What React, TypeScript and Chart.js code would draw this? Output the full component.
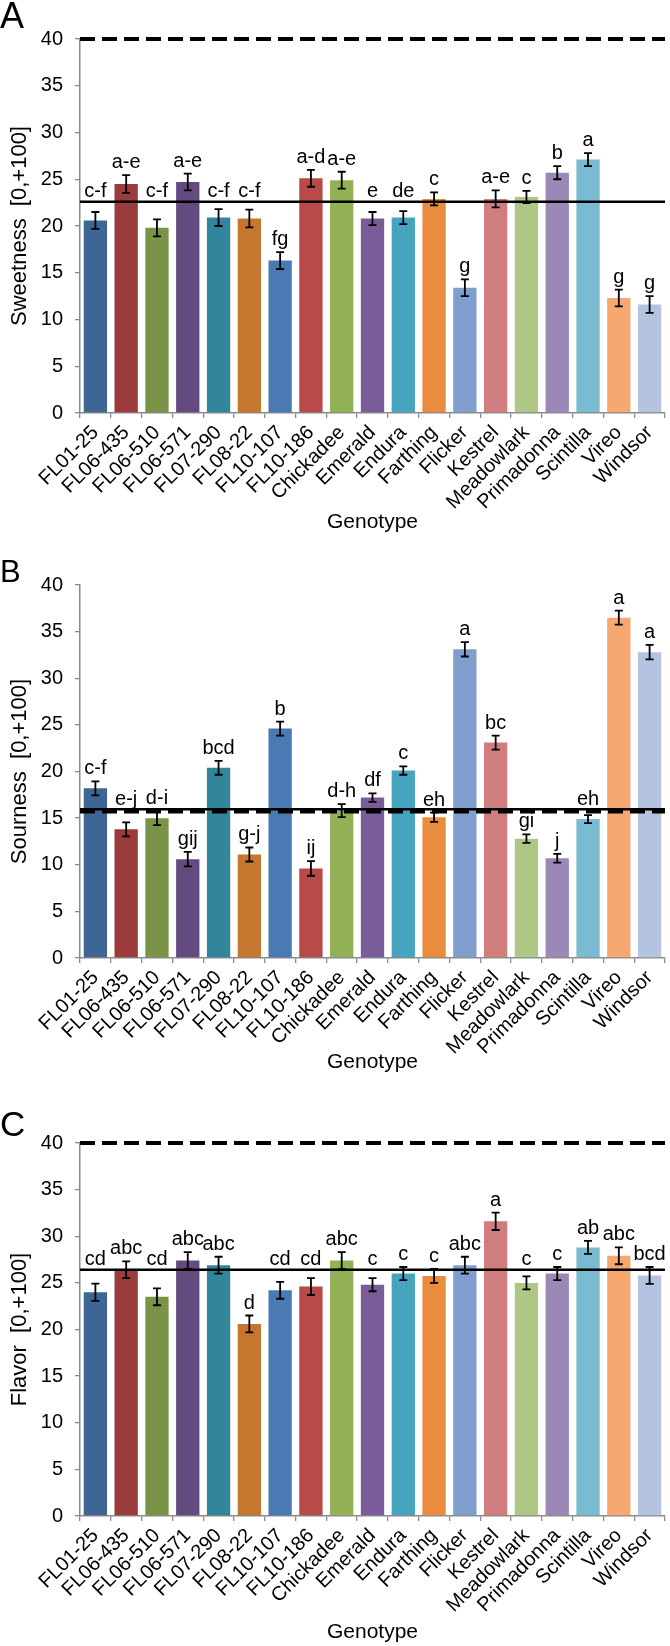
import React, { useEffect, useRef } from "react";
import { Chart, registerables } from "chart.js";

Chart.register(...registerables);

const genotypes = [
  "FL01-25", "FL06-435", "FL06-510", "FL06-571", "FL07-290", "FL08-22", "FL10-107", "FL10-186",
  "Chickadee", "Emerald", "Endura", "Farthing", "Flicker", "Kestrel", "Meadowlark", "Primadonna",
  "Scintilla", "Vireo", "Windsor",
];

const barColors = [
  "#3e6695", "#9b3b3c", "#799446", "#634b80", "#32869b", "#c5762f", "#4a7ab4", "#b84b49",
  "#92b054", "#7a5c9a", "#47a4be", "#e98c3d", "#7f9ecd", "#cf7d7d", "#afc784", "#9b88b7",
  "#79bcd2", "#f7a870", "#b4c4e0",
];

const sweetness = [20.6, 24.5, 19.8, 24.7, 20.9, 20.8, 16.3, 25.1, 24.9, 20.8, 20.9, 22.9, 13.4, 22.9, 23.1, 25.7, 27.1, 12.3, 11.6];
const sweetnessErr = [0.9, 0.95, 0.9, 0.9, 0.9, 0.95, 0.9, 0.9, 0.9, 0.7, 0.7, 0.7, 0.9, 0.9, 0.65, 0.7, 0.7, 0.9, 0.9];
const sweetnessLetters = ["c-f", "a-e", "c-f", "a-e", "c-f", "c-f", "fg", "a-d", "a-e", "e", "de", "c", "g", "a-e", "c", "b", "a", "g", "g"];

const sourness = [18.2, 13.8, 15.0, 10.6, 20.4, 11.1, 24.6, 9.6, 15.8, 17.2, 20.1, 15.1, 33.1, 23.1, 12.8, 10.7, 14.9, 36.5, 32.8];
const sournessErr = [0.75, 0.75, 0.75, 0.78, 0.75, 0.75, 0.75, 0.78, 0.7, 0.45, 0.45, 0.5, 0.77, 0.75, 0.45, 0.47, 0.43, 0.75, 0.77];
const sournessLetters = ["c-f", "e-j", "d-i", "gij", "bcd", "g-j", "b", "ij", "d-h", "df", "c", "eh", "a", "bc", "gi", "j", "eh", "a", "a"];

const flavor = [24.0, 26.4, 23.5, 27.4, 26.9, 20.6, 24.2, 24.6, 27.4, 24.8, 26.0, 25.75, 26.9, 31.6, 25.0, 26.0, 28.8, 27.9, 25.8];
const flavorErr = [0.93, 0.9, 0.9, 0.9, 0.9, 0.9, 0.9, 0.9, 0.9, 0.7, 0.7, 0.75, 0.9, 0.93, 0.7, 0.7, 0.7, 0.9, 0.9];
const flavorLetters = ["cd", "abc", "cd", "abc", "abc", "d", "cd", "cd", "abc", "c", "c", "c", "abc", "a", "c", "c", "ab", "abc", "bcd"];

// reference lines per panel: [panel mean (solid), target (dashed)]
const sweetnessRefs = [22.6, 40];
const sournessRefs = [15.95, 15.7];
const flavorRefs = [26.4, 40];

const FONT = "'Liberation Sans', Arial, Helvetica, sans-serif";
const AXIS = "#8a8a8a";
const CW = 670;

type PanelProps = {
  values: number[];
  errs: number[];
  letters: string[];
  refs: number[];
  yTitle: string;
  top: number;
  height: number;
  padTop: number;
  xAxisHeight: number;
  titlePad: number;
};

function Panel(p: PanelProps) {
  const ref = useRef<HTMLCanvasElement | null>(null);
  useEffect(() => {
    if (!ref.current) return;
    const overlay = {
      id: "overlay",
      afterDatasetsDraw(chart: any) {
        const { ctx, chartArea, scales } = chart;
        const x = scales.x;
        const y = scales.y;
        ctx.save();
        // dashed target line
        ctx.strokeStyle = "#000";
        ctx.lineWidth = 4;
        ctx.setLineDash([15, 7]);
        const yd = y.getPixelForValue(p.refs[1]);
        ctx.beginPath();
        ctx.moveTo(chartArea.left, yd);
        ctx.lineTo(chartArea.right, yd);
        ctx.stroke();
        // solid mean line
        ctx.setLineDash([]);
        ctx.lineWidth = 2.6;
        const ym = y.getPixelForValue(p.refs[0]);
        ctx.beginPath();
        ctx.moveTo(chartArea.left, ym);
        ctx.lineTo(chartArea.right, ym);
        ctx.stroke();
        // error bars
        ctx.lineWidth = 1.8;
        const cap = 4;
        p.values.forEach((v, i) => {
          const cx = x.getPixelForValue(i);
          const y1 = y.getPixelForValue(v + p.errs[i]);
          const y0 = y.getPixelForValue(v - p.errs[i]);
          ctx.beginPath();
          ctx.moveTo(cx, y0);
          ctx.lineTo(cx, y1);
          ctx.moveTo(cx - cap, y1);
          ctx.lineTo(cx + cap, y1);
          ctx.moveTo(cx - cap, y0);
          ctx.lineTo(cx + cap, y0);
          ctx.stroke();
        });
        // significance letters, lifted above a reference line when they would sit on it
        ctx.fillStyle = "#000";
        ctx.font = `20px ${FONT}`;
        ctx.textAlign = "center";
        ctx.textBaseline = "alphabetic";
        const linePix = [ym, yd].filter((v) => v > chartArea.top + 5);
        const topLine = Math.min(...linePix);
        p.values.forEach((v, i) => {
          const cx = x.getPixelForValue(i);
          const yt = y.getPixelForValue(v + p.errs[i]);
          let base = yt - 7;
          const hit = linePix.some((lp) => lp > base - 14 && lp < base + 3);
          if (hit) base = Math.min(base, topLine - 4.5);
          ctx.fillText(p.letters[i], cx, base);
        });
        ctx.restore();
      },
    };
    const chart = new Chart(ref.current, {
      type: "bar",
      data: {
        labels: genotypes,
        datasets: [
          {
            data: p.values,
            backgroundColor: barColors,
            borderWidth: 0,
            barPercentage: 0.757,
            categoryPercentage: 1,
          },
        ],
      },
      options: {
        responsive: false,
        animation: false,
        devicePixelRatio: 1,
        layout: { padding: { top: p.padTop, right: 5, bottom: 0, left: 0 } },
        plugins: { legend: { display: false }, tooltip: { enabled: false } },
        scales: {
          x: {
            grid: { drawOnChartArea: false, color: AXIS, tickLength: 5, lineWidth: 1.3, offset: true },
            border: { color: AXIS, width: 1.5 },
            ticks: {
              color: "#000",
              font: { family: FONT, size: 20 },
              minRotation: 45,
              maxRotation: 45,
              autoSkip: false,
              padding: 3,
            },
            title: {
              display: true,
              text: "Genotype",
              color: "#000",
              font: { family: FONT, size: 21 },
              padding: { top: 0, bottom: p.titlePad },
            },
            afterFit: (s: any) => {
              s.height = p.xAxisHeight;
            },
          },
          y: {
            min: 0,
            max: 40,
            ticks: { stepSize: 5, color: "#000", font: { family: FONT, size: 20 }, padding: 12 },
            grid: { drawOnChartArea: false, color: AXIS, tickLength: 5, lineWidth: 1.3 },
            border: { color: AXIS, width: 1.5 },
            title: {
              display: true,
              text: p.yTitle,
              color: "#000",
              font: { family: FONT, size: 22 },
              padding: { top: 7, bottom: 0 },
            },
            afterFit: (s: any) => {
              s.width = 80;
            },
          },
        },
      },
      plugins: [overlay],
    } as any);
    return () => chart.destroy();
  }, []);
  return (
    <canvas
      ref={ref}
      width={CW}
      height={p.height}
      style={{ position: "absolute", left: 0, top: p.top, width: CW, height: p.height }}
    />
  );
}

const letterStyle = (top: number, left: number, size: number): React.CSSProperties => ({
  position: "absolute",
  top,
  left,
  fontFamily: FONT,
  fontSize: size,
  lineHeight: 1,
  color: "#000",
});

export default function App() {
  return (
    <div
      style={{
        position: "absolute",
        left: 0,
        top: 0,
        width: 670,
        height: 1646,
        overflow: "hidden",
        background: "#fff",
      }}
    >
      <Panel
        values={sweetness}
        errs={sweetnessErr}
        letters={sweetnessLetters}
        refs={sweetnessRefs}
        yTitle="Sweetness  [0,+100]"
        top={0}
        height={538}
        padTop={39}
        xAxisHeight={125}
        titlePad={3}
      />
      <Panel
        values={sourness}
        errs={sournessErr}
        letters={sournessLetters}
        refs={sournessRefs}
        yTitle="Sourness  [0,+100]"
        top={545}
        height={533}
        padTop={40}
        xAxisHeight={120}
        titlePad={3.4}
      />
      <Panel
        values={flavor}
        errs={flavorErr}
        letters={flavorLetters}
        refs={flavorRefs}
        yTitle="Flavor  [0,+100]"
        top={1100}
        height={546}
        padTop={43}
        xAxisHeight={130}
        titlePad={1.4}
      />
      <div style={letterStyle(-2, 0, 36)}>A</div>
      <div style={letterStyle(556, 0, 31)}>B</div>
      <div style={letterStyle(1106, 0, 35)}>C</div>
    </div>
  );
}
